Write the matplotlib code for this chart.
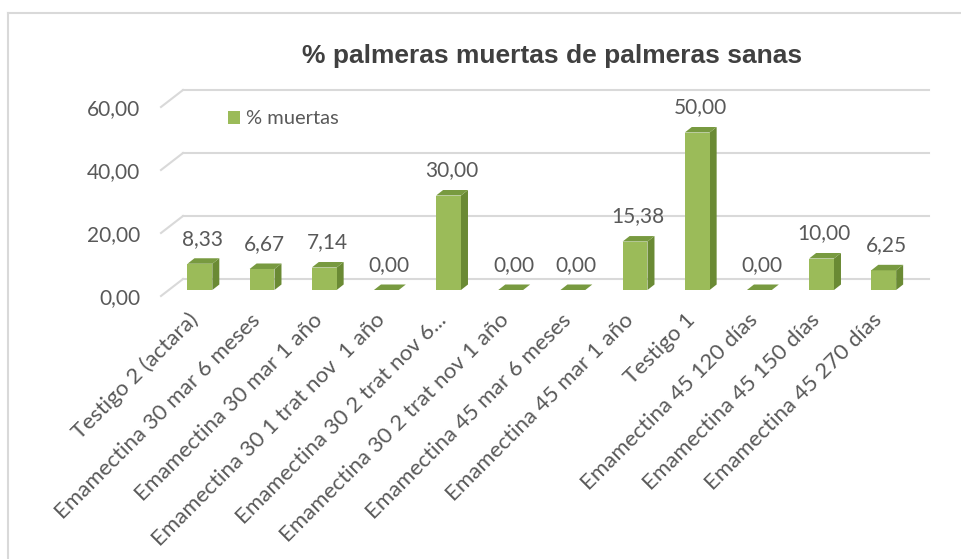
import matplotlib.pyplot as plt
from matplotlib.lines import Line2D
from matplotlib.patches import Polygon, Patch

categorias = ["Testigo 2 (actara)", "Emamectina 30 mar 6 meses",
              "Emamectina 30 mar 1 año", "Emamectina 30 1 trat nov  1 año",
              "Emamectina 30 2 trat nov 6...", "Emamectina 30 2 trat nov 1 año",
              "Emamectina 45 mar 6 meses", "Emamectina 45 mar 1 año",
              "Testigo 1", "Emamectina 45 120 días", "Emamectina 45 150 días",
              "Emamectina 45 270 días"]
muertas = [8.33, 6.67, 7.14, 0.00, 30.00, 0.00, 0.00, 15.38, 50.00, 0.00, 10.00, 6.25]
yticks = [0, 20, 40, 60]

W, H = 962, 559
fig = plt.figure(figsize=(W / 100, H / 100), dpi=100)
fig.patch.set_facecolor("white")

txt = "#595959"
fuente = "Lato"

# plano frontal del grafico 3D (en pixeles)
ax = fig.add_axes([161 / W, (H - 296) / H, 746 / W, 189 / H])
ax.set_xlim(-0.5, 11.5)
ax.set_ylim(0, 60)
ax.patch.set_visible(False)
for s in ax.spines.values():
    s.set_visible(False)
ax.set_xticks([])
ax.set_yticks(yticks)
ax.set_yticklabels([f"{v:.2f}".replace(".", ",") for v in yticks],
                   fontsize=15, color=txt, family=fuente)
ax.tick_params(axis="y", length=0, pad=15)

cat_px = 746 / 12
val_px = 189 / 60

# pared del fondo: desplazamiento en pixeles
gx, gy = 22 / cat_px, 17 / val_px
for v in yticks:
    ax.plot([-0.5 + gx, 11.5 + gx], [v + gy, v + gy], color="#d9d9d9", lw=1.5,
            clip_on=False, zorder=1)
    ax.plot([-0.5, -0.5 + gx], [v, v + gy], color="#d9d9d9", lw=1.5,
            clip_on=False, zorder=1)

# barras
fx, fy = 7.8 / cat_px, 6 / val_px
ddx, ddy = 7 / cat_px, 5.5 / val_px
ancho = 0.2
for i, v in enumerate(muertas):
    x0, x1 = i - ancho + fx, i + ancho + fx
    y0, y1 = fy, v + fy
    frente = [(x0, y0), (x1, y0), (x1, y1), (x0, y1)]
    arriba = [(x0, y1), (x1, y1), (x1 + ddx, y1 + ddy), (x0 + ddx, y1 + ddy)]
    lado = [(x1, y0), (x1 + ddx, y0 + ddy), (x1 + ddx, y1 + ddy), (x1, y1)]
    ax.add_patch(Polygon(lado, closed=True, fc="#6a8a34", ec="none", zorder=3, clip_on=False))
    ax.add_patch(Polygon(frente, closed=True, fc="#9bbb59", ec="none", zorder=3, clip_on=False))
    ax.add_patch(Polygon(arriba, closed=True, fc="#789a40", ec="none", zorder=3, clip_on=False))
    ax.annotate(f"{v:.2f}".replace(".", ","), xy=(i + fx, y1), xytext=(2, 18),
                textcoords="offset points", ha="center", va="center",
                fontsize=15, color=txt, family=fuente, annotation_clip=False)
    ax.annotate(categorias[i], xy=(i, 0), xytext=(2, -15),
                textcoords="offset points", ha="right", va="center",
                rotation=45, rotation_mode="anchor",
                fontsize=16, color=txt, family=fuente, annotation_clip=False)

# leyenda
fig.legend(handles=[Patch(facecolor="#9bbb59", edgecolor="none")], labels=["% muertas"],
           loc="center left", bbox_to_anchor=(228 / W, 1 - 119 / H), frameon=False,
           handlelength=0.6, handleheight=0.6, handletextpad=0.3, borderpad=0,
           borderaxespad=0, prop={"family": fuente, "size": 14.5}, labelcolor=txt)

# titulo
fig.text(552 / W, 1 - 63 / H, "% palmeras muertas de palmeras sanas", ha="center",
         va="baseline", fontsize=19, fontweight="bold", family="Liberation Sans",
         color="#404040")

# marco del grafico
fig.add_artist(Line2D([8 / W, 8 / W], [0, 1 - 13 / H], color="#d9d9d9", lw=1.5))
fig.add_artist(Line2D([8 / W, 1], [1 - 13 / H, 1 - 13 / H], color="#d9d9d9", lw=1.5))

fig.savefig("out.png", dpi=100)
